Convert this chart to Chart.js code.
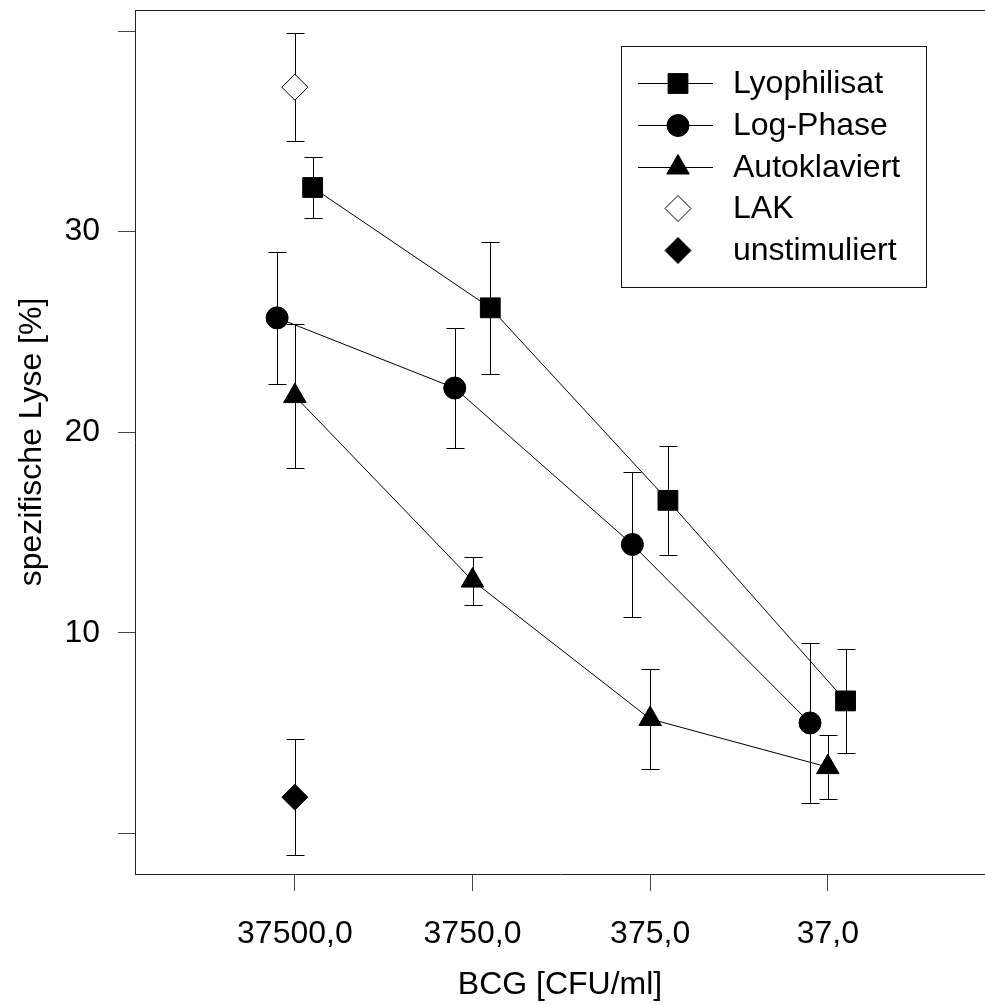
<!DOCTYPE html>
<html><head><meta charset="utf-8">
<script src="https://cdn.jsdelivr.net/npm/chart.js@4/dist/chart.umd.min.js"></script>
<style>html,body{margin:0;padding:0;background:#fff}</style>
</head><body>
<canvas id="c" width="985" height="1005" style="display:block"></canvas>
<script>
// ---- data ----
const categories = ['37500,0', '3750,0', '375,0', '37,0'];
const yTickValues = [0, 10, 20, 30, 40];
const yTickLabels = ['', '10', '20', '30', ''];
const seriesNames = ['Lyophilisat', 'Log-Phase', 'Autoklaviert', 'LAK', 'unstimuliert'];
const lyophilisat = [32.2, 26.2, 16.6, 6.6];
const lyophilisatSD = [1.5, 3.3, 2.7, 2.6];
const logPhase = [25.7, 22.2, 14.4, 5.5];
const logPhaseSD = [3.3, 3.0, 3.6, 4.0];
const autoklaviert = [21.8, 12.6, 5.7, 3.3];
const autoklaviertSD = [3.6, 1.2, 2.5, 1.6];
const lak = [37.2];
const lakSD = [2.7];
const unstimuliert = [1.8];
const unstimuliertSD = [2.9];
const xTitle = 'BCG [CFU/ml]';
const yTitle = 'spezifische Lyse [%]';

const FONT = "'Liberation Sans', Arial, Helvetica, sans-serif";

function pts(values, offset) {
  return values.map((v, i) => ({ x: i + offset, y: v }));
}

const datasets = [
  { label: seriesNames[0], data: pts(lyophilisat, 0.1), sd: lyophilisatSD, showLine: true,
    pointStyle: 'rect', pointRadius: 14, backgroundColor: '#000', borderColor: '#000' },
  { label: seriesNames[1], data: pts(logPhase, -0.1), sd: logPhaseSD, showLine: true,
    pointStyle: 'circle', pointRadius: 11, backgroundColor: '#000', borderColor: '#000' },
  { label: seriesNames[2], data: pts(autoklaviert, 0), sd: autoklaviertSD, showLine: true,
    pointStyle: 'triangle', pointRadius: 13, backgroundColor: '#000', borderColor: '#000' },
  { label: seriesNames[3], data: pts(lak, 0), sd: lakSD, showLine: false,
    pointStyle: 'rectRot', pointRadius: 13, backgroundColor: '#fff', borderColor: '#000' },
  { label: seriesNames[4], data: pts(unstimuliert, 0), sd: unstimuliertSD, showLine: false,
    pointStyle: 'rectRot', pointRadius: 13, backgroundColor: '#000', borderColor: '#000' }
];
datasets.forEach(d => {
  d.borderWidth = 1;
  d.pointBorderWidth = 1;
  d.pointBackgroundColor = d.backgroundColor;
  d.pointBorderColor = '#000';
  d.pointHoverRadius = d.pointRadius;
  d.tension = 0;
});

const errorBars = {
  id: 'errorBars',
  beforeDatasetsDraw(chart) {
    const { ctx, scales: { x, y } } = chart;
    ctx.save();
    ctx.strokeStyle = '#000';
    ctx.lineWidth = 1;
    chart.data.datasets.forEach(ds => {
      ds.data.forEach((p, j) => {
        const s = ds.sd[j];
        const px = Math.round(x.getPixelForValue(p.x)) + 0.5;
        const yt = Math.round(y.getPixelForValue(p.y + s)) + 0.5;
        const yb = Math.round(y.getPixelForValue(p.y - s)) + 0.5;
        ctx.beginPath();
        ctx.moveTo(px, yt); ctx.lineTo(px, yb);
        ctx.moveTo(px - 9, yt); ctx.lineTo(px + 9, yt);
        ctx.moveTo(px - 9, yb); ctx.lineTo(px + 9, yb);
        ctx.stroke();
      });
    });
    ctx.restore();
  }
};

const frameAndLegend = {
  id: 'frameAndLegend',
  afterDraw(chart) {
    const { ctx, chartArea } = chart;
    ctx.save();
    ctx.strokeStyle = '#222';
    ctx.lineWidth = 1;
    ctx.beginPath();
    ctx.moveTo(chartArea.left, chartArea.top + 0.5);
    ctx.lineTo(chartArea.right, chartArea.top + 0.5);
    ctx.stroke();
    // legend box
    ctx.strokeStyle = '#111';
    ctx.strokeRect(621.5, 46.5, 305, 241);
    ctx.font = '32px ' + FONT;
    ctx.textBaseline = 'middle';
    ctx.textAlign = 'left';
    chart.data.datasets.forEach((ds, i) => {
      const yy = Math.round(83 + i * 41.8);
      if (ds.showLine) {
        ctx.beginPath();
        ctx.strokeStyle = '#000';
        ctx.moveTo(638, yy + 0.5); ctx.lineTo(713, yy + 0.5);
        ctx.stroke();
      }
      ctx.fillStyle = ds.backgroundColor;
      ctx.strokeStyle = '#000';
      ctx.lineWidth = 1;
      Chart.helpers.drawPoint(ctx, { pointStyle: ds.pointStyle, radius: ds.pointRadius, rotation: 0, borderWidth: 1 }, 678, yy + 0.5);
      ctx.fillStyle = '#000';
      ctx.fillText(ds.label, 733, yy + 1);
    });
    ctx.restore();
  }
};

new Chart(document.getElementById('c'), {
  type: 'scatter',
  data: { datasets },
  options: {
    responsive: false,
    animation: false,
    devicePixelRatio: 1,
    layout: { autoPadding: false, padding: { top: 10, right: 0, left: 0, bottom: 0 } },
    plugins: { legend: { display: false }, tooltip: { enabled: false } },
    elements: { line: { borderColor: '#000', borderWidth: 1 } },
    scales: {
      x: {
        type: 'linear', min: -0.9, max: 3.885,
        afterBuildTicks: s => { s.ticks = categories.map((c, i) => ({ value: i })); },
        afterFit: s => { s.height = 131; s.paddingLeft = 0; s.paddingRight = 0; s.paddingTop = 0; s.paddingBottom = 0; },
        ticks: { callback: v => categories[v] ?? '', color: '#000', font: { family: FONT, size: 32 }, padding: 24, maxRotation: 0, autoSkip: false },
        grid: { display: true, drawOnChartArea: false, drawTicks: true, tickLength: 17, tickColor: '#444', tickWidth: 1 },
        border: { display: true, color: '#222', width: 1 },
        title: { display: true, text: xTitle, color: '#000', font: { family: FONT, size: 32 }, padding: { top: 0, bottom: 1 } }
      },
      y: {
        type: 'linear', min: -2.03, max: 41.05,
        afterBuildTicks: s => { s.ticks = yTickValues.map(v => ({ value: v })); },
        afterFit: s => { s.width = 135; s.paddingLeft = 0; s.paddingRight = 0; s.paddingTop = 0; s.paddingBottom = 0; },
        ticks: { callback: v => { const k = yTickValues.indexOf(v); return k >= 0 ? yTickLabels[k] : ''; }, color: '#000', font: { family: FONT, size: 32 }, padding: 18, autoSkip: false },
        grid: { display: true, drawOnChartArea: false, drawTicks: true, tickLength: 17, tickColor: '#444', tickWidth: 1 },
        border: { display: true, color: '#222', width: 1 },
        title: { display: true, text: yTitle, color: '#000', font: { family: FONT, size: 32 }, padding: { top: 13, bottom: 0 } }
      }
    }
  },
  plugins: [errorBars, frameAndLegend]
});
</script>
</body></html>
